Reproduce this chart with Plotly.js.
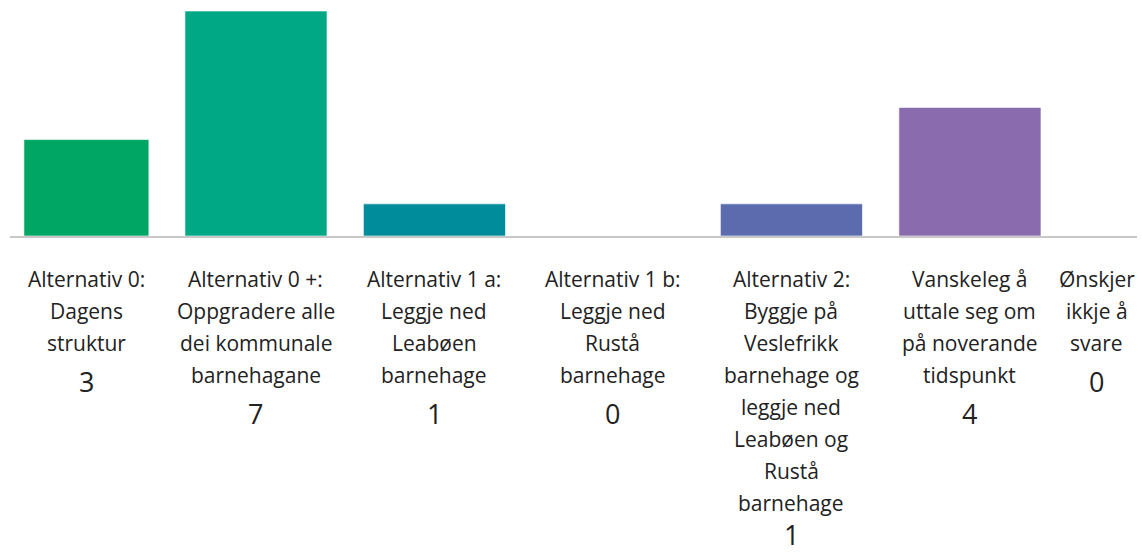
<!DOCTYPE html>
<html>
<head>
<meta charset="utf-8">
<script src="https://cdn.plot.ly/plotly-3.0.1.min.js"></script>
<style>html,body{margin:0;padding:0;background:#fff;overflow:hidden}#chart{width:1142px;height:552px}</style>
</head>
<body>
<div id="chart"></div>
<script>
// ---- data ----
const categories = [
  "Alternativ 0:\nDagens\nstruktur",
  "Alternativ 0 +:\nOppgradere alle\ndei kommunale\nbarnehagane",
  "Alternativ 1 a:\nLeggje ned\nLeabøen\nbarnehage",
  "Alternativ 1 b:\nLeggje ned\nRustå\nbarnehage",
  "Alternativ 2:\nByggje på\nVeslefrikk\nbarnehage og\nleggje ned\nLeabøen og\nRustå\nbarnehage",
  "Vanskeleg å\nuttale seg om\npå noverande\ntidspunkt",
  "Ønskjer\nikkje å\nsvare"
];
const values = [3, 7, 1, 0, 1, 4, 0];

// ---- style ----
const colors = ["#00a664", "#00a886", "#008c9a", "#2f7ca6", "#5b6bad", "#8a6bae", "#a067aa"];
const barWidths = [0.70, 0.796, 0.796, 0.796, 0.796, 0.796, 0.796];
const barOffsets = [-0.30, -0.398, -0.398, -0.398, -0.398, -0.398, -0.398];
const labelNudge = [0.05, 0, 0, 0, 0, 0, -0.29];
const textColor = "#222222";
const lineFont = 21, valueFont = 27, lineStep = 32;
const plotBottomPx = 236, pageH = 552;

const idx = categories.map((_, i) => i);

const trace = {
  type: "bar",
  x: idx,
  y: values,
  width: barWidths,
  offset: barOffsets,
  marker: { color: colors, line: { color: "rgba(255,255,255,0.6)", width: 1 } },
  hoverinfo: "skip"
};

const annotations = [];
categories.forEach((cat, i) => {
  const lines = cat.split("\n");
  lines.forEach((ln, j) => {
    annotations.push({
      x: i + labelNudge[i], xref: "x", y: 0, yref: "paper",
      yanchor: "middle", xanchor: "center",
      yshift: -(43 + j * lineStep),
      text: ln, showarrow: false,
      font: { family: "Open Sans, sans-serif", size: lineFont, color: textColor }
    });
  });
  // value under the label, kept inside the page
  let centre = 43 + (lines.length - 1) * lineStep + 38;
  const maxCentre = pageH - plotBottomPx - 18;
  if (centre > maxCentre) centre = maxCentre;
  annotations.push({
    x: i + labelNudge[i], xref: "x", y: 0, yref: "paper",
    yanchor: "middle", xanchor: "center", borderpad: 0,
    yshift: -centre,
    text: String(values[i]), showarrow: false,
    font: { family: "Open Sans, sans-serif", size: valueFont, color: textColor }
  });
});

const layout = {
  width: 1142, height: 552,
  margin: { l: 10, r: 5, t: 11, b: 316 },
  paper_bgcolor: "#ffffff", plot_bgcolor: "#ffffff",
  showlegend: false,
  xaxis: {
    type: "linear", range: [-0.378, 5.936],
    showgrid: false, zeroline: false, showticklabels: false, ticks: "",
    showline: true, linecolor: "#c8c8c8", linewidth: 2, fixedrange: true
  },
  yaxis: {
    range: [0, 7], showgrid: false, zeroline: false,
    showticklabels: false, ticks: "", showline: false, fixedrange: true
  },
  annotations: annotations
};

Plotly.newPlot("chart", [trace], layout, { displayModeBar: false, staticPlot: true });
</script>
</body>
</html>
